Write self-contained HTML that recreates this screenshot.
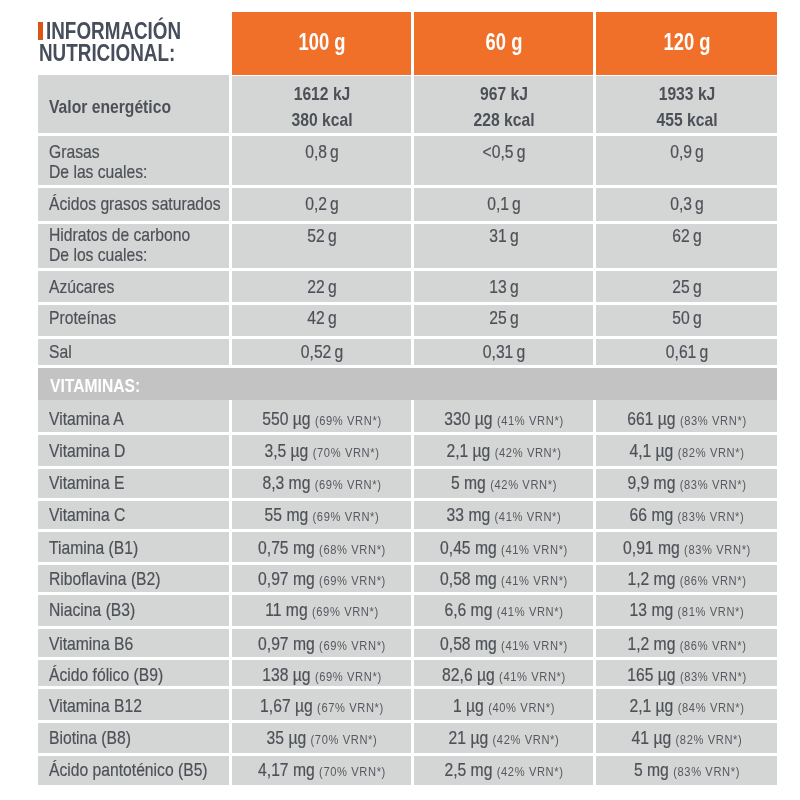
<!DOCTYPE html>
<html><head><meta charset="utf-8"><style>
html,body{margin:0;padding:0;background:#fff;width:800px;height:800px;overflow:hidden;position:relative}
body{font-family:"Liberation Sans",sans-serif;color:#4d5157}
#w{position:absolute;left:0;top:0;width:800px;height:800px;filter:blur(0.5px)}
.r{position:absolute}
.t{position:absolute;white-space:nowrap;line-height:1;}
.n{-webkit-text-stroke-width:0.2px}
.s{font-size:13.5px;letter-spacing:0.75px;-webkit-text-stroke-width:0;color:#55595e}
</style></head><body><div id="w">
<div class="r" style="left:38px;top:22px;width:5px;height:18px;background:#dc5518"></div>
<div class="t" style="left:46.30px;top:19.83px;width:400px;font-size:23px;text-align:left;transform-origin:left 0;transform:scaleX(0.82);font-weight:bold;color:#474e5b;">INFORMACIÓN</div>
<div class="t" style="left:38.80px;top:41.53px;width:400px;font-size:23px;text-align:left;transform-origin:left 0;transform:scaleX(0.82);font-weight:bold;color:#474e5b;">NUTRICIONAL:</div>
<div class="r" style="left:232px;top:12px;width:179px;height:63px;background:#f07029"></div>
<div class="t" style="left:121.50px;top:31.03px;width:400px;font-size:23px;text-align:center;transform-origin:center 0;transform:scaleX(0.8);font-weight:bold;color:#ffffff;">100 g</div>
<div class="r" style="left:414px;top:12px;width:179px;height:63px;background:#f07029"></div>
<div class="t" style="left:303.50px;top:31.03px;width:400px;font-size:23px;text-align:center;transform-origin:center 0;transform:scaleX(0.8);font-weight:bold;color:#ffffff;">60 g</div>
<div class="r" style="left:596px;top:12px;width:181px;height:63px;background:#f07029"></div>
<div class="t" style="left:486.50px;top:31.03px;width:400px;font-size:23px;text-align:center;transform-origin:center 0;transform:scaleX(0.8);font-weight:bold;color:#ffffff;">120 g</div>
<div class="r" style="left:38px;top:75px;width:191px;height:58px;background:#d4d5d5"></div>
<div class="r" style="left:232px;top:76px;width:179px;height:57px;background:#d4d5d5"></div>
<div class="r" style="left:414px;top:76px;width:179px;height:57px;background:#d4d5d5"></div>
<div class="r" style="left:596px;top:76px;width:181px;height:57px;background:#d4d5d5"></div>
<div class="r" style="left:38px;top:136px;width:191px;height:49px;background:#d4d5d5"></div>
<div class="r" style="left:232px;top:136px;width:179px;height:49px;background:#d4d5d5"></div>
<div class="r" style="left:414px;top:136px;width:179px;height:49px;background:#d4d5d5"></div>
<div class="r" style="left:596px;top:136px;width:181px;height:49px;background:#d4d5d5"></div>
<div class="r" style="left:38px;top:188px;width:191px;height:33px;background:#d4d5d5"></div>
<div class="r" style="left:232px;top:188px;width:179px;height:33px;background:#d4d5d5"></div>
<div class="r" style="left:414px;top:188px;width:179px;height:33px;background:#d4d5d5"></div>
<div class="r" style="left:596px;top:188px;width:181px;height:33px;background:#d4d5d5"></div>
<div class="r" style="left:38px;top:224px;width:191px;height:44px;background:#d4d5d5"></div>
<div class="r" style="left:232px;top:224px;width:179px;height:44px;background:#d4d5d5"></div>
<div class="r" style="left:414px;top:224px;width:179px;height:44px;background:#d4d5d5"></div>
<div class="r" style="left:596px;top:224px;width:181px;height:44px;background:#d4d5d5"></div>
<div class="r" style="left:38px;top:271px;width:191px;height:31px;background:#d4d5d5"></div>
<div class="r" style="left:232px;top:271px;width:179px;height:31px;background:#d4d5d5"></div>
<div class="r" style="left:414px;top:271px;width:179px;height:31px;background:#d4d5d5"></div>
<div class="r" style="left:596px;top:271px;width:181px;height:31px;background:#d4d5d5"></div>
<div class="r" style="left:38px;top:305px;width:191px;height:31px;background:#d4d5d5"></div>
<div class="r" style="left:232px;top:305px;width:179px;height:31px;background:#d4d5d5"></div>
<div class="r" style="left:414px;top:305px;width:179px;height:31px;background:#d4d5d5"></div>
<div class="r" style="left:596px;top:305px;width:181px;height:31px;background:#d4d5d5"></div>
<div class="r" style="left:38px;top:339px;width:191px;height:26px;background:#d4d5d5"></div>
<div class="r" style="left:232px;top:339px;width:179px;height:26px;background:#d4d5d5"></div>
<div class="r" style="left:414px;top:339px;width:179px;height:26px;background:#d4d5d5"></div>
<div class="r" style="left:596px;top:339px;width:181px;height:26px;background:#d4d5d5"></div>
<div class="r" style="left:38px;top:368px;width:739px;height:32px;background:#c3c3c3"></div>
<div class="r" style="left:38px;top:400px;width:191px;height:32px;background:#d4d5d5"></div>
<div class="r" style="left:232px;top:400px;width:179px;height:32px;background:#d4d5d5"></div>
<div class="r" style="left:414px;top:400px;width:179px;height:32px;background:#d4d5d5"></div>
<div class="r" style="left:596px;top:400px;width:181px;height:32px;background:#d4d5d5"></div>
<div class="r" style="left:38px;top:435px;width:191px;height:31px;background:#d4d5d5"></div>
<div class="r" style="left:232px;top:435px;width:179px;height:31px;background:#d4d5d5"></div>
<div class="r" style="left:414px;top:435px;width:179px;height:31px;background:#d4d5d5"></div>
<div class="r" style="left:596px;top:435px;width:181px;height:31px;background:#d4d5d5"></div>
<div class="r" style="left:38px;top:469px;width:191px;height:29px;background:#d4d5d5"></div>
<div class="r" style="left:232px;top:469px;width:179px;height:29px;background:#d4d5d5"></div>
<div class="r" style="left:414px;top:469px;width:179px;height:29px;background:#d4d5d5"></div>
<div class="r" style="left:596px;top:469px;width:181px;height:29px;background:#d4d5d5"></div>
<div class="r" style="left:38px;top:501px;width:191px;height:28px;background:#d4d5d5"></div>
<div class="r" style="left:232px;top:501px;width:179px;height:28px;background:#d4d5d5"></div>
<div class="r" style="left:414px;top:501px;width:179px;height:28px;background:#d4d5d5"></div>
<div class="r" style="left:596px;top:501px;width:181px;height:28px;background:#d4d5d5"></div>
<div class="r" style="left:38px;top:532px;width:191px;height:30px;background:#d4d5d5"></div>
<div class="r" style="left:232px;top:532px;width:179px;height:30px;background:#d4d5d5"></div>
<div class="r" style="left:414px;top:532px;width:179px;height:30px;background:#d4d5d5"></div>
<div class="r" style="left:596px;top:532px;width:181px;height:30px;background:#d4d5d5"></div>
<div class="r" style="left:38px;top:565px;width:191px;height:27px;background:#d4d5d5"></div>
<div class="r" style="left:232px;top:565px;width:179px;height:27px;background:#d4d5d5"></div>
<div class="r" style="left:414px;top:565px;width:179px;height:27px;background:#d4d5d5"></div>
<div class="r" style="left:596px;top:565px;width:181px;height:27px;background:#d4d5d5"></div>
<div class="r" style="left:38px;top:595px;width:191px;height:31px;background:#d4d5d5"></div>
<div class="r" style="left:232px;top:595px;width:179px;height:31px;background:#d4d5d5"></div>
<div class="r" style="left:414px;top:595px;width:179px;height:31px;background:#d4d5d5"></div>
<div class="r" style="left:596px;top:595px;width:181px;height:31px;background:#d4d5d5"></div>
<div class="r" style="left:38px;top:629px;width:191px;height:28px;background:#d4d5d5"></div>
<div class="r" style="left:232px;top:629px;width:179px;height:28px;background:#d4d5d5"></div>
<div class="r" style="left:414px;top:629px;width:179px;height:28px;background:#d4d5d5"></div>
<div class="r" style="left:596px;top:629px;width:181px;height:28px;background:#d4d5d5"></div>
<div class="r" style="left:38px;top:660px;width:191px;height:26px;background:#d4d5d5"></div>
<div class="r" style="left:232px;top:660px;width:179px;height:26px;background:#d4d5d5"></div>
<div class="r" style="left:414px;top:660px;width:179px;height:26px;background:#d4d5d5"></div>
<div class="r" style="left:596px;top:660px;width:181px;height:26px;background:#d4d5d5"></div>
<div class="r" style="left:38px;top:689px;width:191px;height:31px;background:#d4d5d5"></div>
<div class="r" style="left:232px;top:689px;width:179px;height:31px;background:#d4d5d5"></div>
<div class="r" style="left:414px;top:689px;width:179px;height:31px;background:#d4d5d5"></div>
<div class="r" style="left:596px;top:689px;width:181px;height:31px;background:#d4d5d5"></div>
<div class="r" style="left:38px;top:723px;width:191px;height:30px;background:#d4d5d5"></div>
<div class="r" style="left:232px;top:723px;width:179px;height:30px;background:#d4d5d5"></div>
<div class="r" style="left:414px;top:723px;width:179px;height:30px;background:#d4d5d5"></div>
<div class="r" style="left:596px;top:723px;width:181px;height:30px;background:#d4d5d5"></div>
<div class="r" style="left:38px;top:756px;width:191px;height:29px;background:#d4d5d5"></div>
<div class="r" style="left:232px;top:756px;width:179px;height:29px;background:#d4d5d5"></div>
<div class="r" style="left:414px;top:756px;width:179px;height:29px;background:#d4d5d5"></div>
<div class="r" style="left:596px;top:756px;width:181px;height:29px;background:#d4d5d5"></div>
<div class="t" style="left:49.00px;top:97.32px;width:400px;font-size:19px;text-align:left;transform-origin:left 0;transform:scaleX(0.825);font-weight:bold;">Valor energético</div>
<div class="t" style="left:121.50px;top:83.67px;width:400px;font-size:19px;text-align:center;transform-origin:center 0;transform:scaleX(0.825);font-weight:bold;">1612 kJ</div>
<div class="t" style="left:121.50px;top:110.22px;width:400px;font-size:19px;text-align:center;transform-origin:center 0;transform:scaleX(0.825);font-weight:bold;">380 kcal</div>
<div class="t" style="left:303.50px;top:83.67px;width:400px;font-size:19px;text-align:center;transform-origin:center 0;transform:scaleX(0.825);font-weight:bold;">967 kJ</div>
<div class="t" style="left:303.50px;top:110.22px;width:400px;font-size:19px;text-align:center;transform-origin:center 0;transform:scaleX(0.825);font-weight:bold;">228 kcal</div>
<div class="t" style="left:486.50px;top:83.67px;width:400px;font-size:19px;text-align:center;transform-origin:center 0;transform:scaleX(0.825);font-weight:bold;">1933 kJ</div>
<div class="t" style="left:486.50px;top:110.22px;width:400px;font-size:19px;text-align:center;transform-origin:center 0;transform:scaleX(0.825);font-weight:bold;">455 kcal</div>
<div class="t n" style="left:49.00px;top:141.92px;width:400px;font-size:19px;text-align:left;transform-origin:left 0;transform:scaleX(0.825);">Grasas</div>
<div class="t n" style="left:49.00px;top:161.92px;width:400px;font-size:19px;text-align:left;transform-origin:left 0;transform:scaleX(0.825);">De las cuales:</div>
<div class="t n" style="left:121.50px;top:142.17px;width:400px;font-size:19px;text-align:center;transform-origin:center 0;transform:scaleX(0.825);word-spacing:-1.5px;">0,8 g</div>
<div class="t n" style="left:303.50px;top:142.17px;width:400px;font-size:19px;text-align:center;transform-origin:center 0;transform:scaleX(0.825);word-spacing:-1.5px;">&lt;0,5 g</div>
<div class="t n" style="left:486.50px;top:142.17px;width:400px;font-size:19px;text-align:center;transform-origin:center 0;transform:scaleX(0.825);word-spacing:-1.5px;">0,9 g</div>
<div class="t n" style="left:49.00px;top:193.67px;width:400px;font-size:19px;text-align:left;transform-origin:left 0;transform:scaleX(0.825);">Ácidos grasos saturados</div>
<div class="t n" style="left:121.50px;top:193.67px;width:400px;font-size:19px;text-align:center;transform-origin:center 0;transform:scaleX(0.825);word-spacing:-1.5px;">0,2 g</div>
<div class="t n" style="left:303.50px;top:193.67px;width:400px;font-size:19px;text-align:center;transform-origin:center 0;transform:scaleX(0.825);word-spacing:-1.5px;">0,1 g</div>
<div class="t n" style="left:486.50px;top:193.67px;width:400px;font-size:19px;text-align:center;transform-origin:center 0;transform:scaleX(0.825);word-spacing:-1.5px;">0,3 g</div>
<div class="t n" style="left:49.00px;top:224.92px;width:400px;font-size:19px;text-align:left;transform-origin:left 0;transform:scaleX(0.825);">Hidratos de carbono</div>
<div class="t n" style="left:49.00px;top:244.92px;width:400px;font-size:19px;text-align:left;transform-origin:left 0;transform:scaleX(0.825);">De los cuales:</div>
<div class="t n" style="left:121.50px;top:225.92px;width:400px;font-size:19px;text-align:center;transform-origin:center 0;transform:scaleX(0.825);word-spacing:-1.5px;">52 g</div>
<div class="t n" style="left:303.50px;top:225.92px;width:400px;font-size:19px;text-align:center;transform-origin:center 0;transform:scaleX(0.825);word-spacing:-1.5px;">31 g</div>
<div class="t n" style="left:486.50px;top:225.92px;width:400px;font-size:19px;text-align:center;transform-origin:center 0;transform:scaleX(0.825);word-spacing:-1.5px;">62 g</div>
<div class="t n" style="left:49.00px;top:276.92px;width:400px;font-size:19px;text-align:left;transform-origin:left 0;transform:scaleX(0.825);">Azúcares</div>
<div class="t n" style="left:121.50px;top:276.92px;width:400px;font-size:19px;text-align:center;transform-origin:center 0;transform:scaleX(0.825);word-spacing:-1.5px;">22 g</div>
<div class="t n" style="left:303.50px;top:276.92px;width:400px;font-size:19px;text-align:center;transform-origin:center 0;transform:scaleX(0.825);word-spacing:-1.5px;">13 g</div>
<div class="t n" style="left:486.50px;top:276.92px;width:400px;font-size:19px;text-align:center;transform-origin:center 0;transform:scaleX(0.825);word-spacing:-1.5px;">25 g</div>
<div class="t n" style="left:49.00px;top:308.42px;width:400px;font-size:19px;text-align:left;transform-origin:left 0;transform:scaleX(0.825);">Proteínas</div>
<div class="t n" style="left:121.50px;top:308.42px;width:400px;font-size:19px;text-align:center;transform-origin:center 0;transform:scaleX(0.825);word-spacing:-1.5px;">42 g</div>
<div class="t n" style="left:303.50px;top:308.42px;width:400px;font-size:19px;text-align:center;transform-origin:center 0;transform:scaleX(0.825);word-spacing:-1.5px;">25 g</div>
<div class="t n" style="left:486.50px;top:308.42px;width:400px;font-size:19px;text-align:center;transform-origin:center 0;transform:scaleX(0.825);word-spacing:-1.5px;">50 g</div>
<div class="t n" style="left:49.00px;top:341.92px;width:400px;font-size:19px;text-align:left;transform-origin:left 0;transform:scaleX(0.825);">Sal</div>
<div class="t n" style="left:121.50px;top:341.92px;width:400px;font-size:19px;text-align:center;transform-origin:center 0;transform:scaleX(0.825);word-spacing:-1.5px;">0,52 g</div>
<div class="t n" style="left:303.50px;top:341.92px;width:400px;font-size:19px;text-align:center;transform-origin:center 0;transform:scaleX(0.825);word-spacing:-1.5px;">0,31 g</div>
<div class="t n" style="left:486.50px;top:341.92px;width:400px;font-size:19px;text-align:center;transform-origin:center 0;transform:scaleX(0.825);word-spacing:-1.5px;">0,61 g</div>
<div class="t" style="left:50.00px;top:376.51px;width:400px;font-size:18px;text-align:left;transform-origin:left 0;transform:scaleX(0.87);font-weight:bold;color:#ffffff;">VITAMINAS:</div>
<div class="t n" style="left:49.00px;top:408.92px;width:400px;font-size:19px;text-align:left;transform-origin:left 0;transform:scaleX(0.825);">Vitamina A</div>
<div class="t n" style="left:121.50px;top:408.92px;width:400px;font-size:19px;text-align:center;transform-origin:center 0;transform:scaleX(0.825);">550 µg <span class="s">(69% VRN*)</span></div>
<div class="t n" style="left:303.50px;top:408.92px;width:400px;font-size:19px;text-align:center;transform-origin:center 0;transform:scaleX(0.825);">330 µg <span class="s">(41% VRN*)</span></div>
<div class="t n" style="left:486.50px;top:408.92px;width:400px;font-size:19px;text-align:center;transform-origin:center 0;transform:scaleX(0.825);">661 µg <span class="s">(83% VRN*)</span></div>
<div class="t n" style="left:49.00px;top:440.92px;width:400px;font-size:19px;text-align:left;transform-origin:left 0;transform:scaleX(0.825);">Vitamina D</div>
<div class="t n" style="left:121.50px;top:440.92px;width:400px;font-size:19px;text-align:center;transform-origin:center 0;transform:scaleX(0.825);">3,5 µg <span class="s">(70% VRN*)</span></div>
<div class="t n" style="left:303.50px;top:440.92px;width:400px;font-size:19px;text-align:center;transform-origin:center 0;transform:scaleX(0.825);">2,1 µg <span class="s">(42% VRN*)</span></div>
<div class="t n" style="left:486.50px;top:440.92px;width:400px;font-size:19px;text-align:center;transform-origin:center 0;transform:scaleX(0.825);">4,1 µg <span class="s">(82% VRN*)</span></div>
<div class="t n" style="left:49.00px;top:472.67px;width:400px;font-size:19px;text-align:left;transform-origin:left 0;transform:scaleX(0.825);">Vitamina E</div>
<div class="t n" style="left:121.50px;top:472.67px;width:400px;font-size:19px;text-align:center;transform-origin:center 0;transform:scaleX(0.825);">8,3 mg <span class="s">(69% VRN*)</span></div>
<div class="t n" style="left:303.50px;top:472.67px;width:400px;font-size:19px;text-align:center;transform-origin:center 0;transform:scaleX(0.825);">5 mg <span class="s">(42% VRN*)</span></div>
<div class="t n" style="left:486.50px;top:472.67px;width:400px;font-size:19px;text-align:center;transform-origin:center 0;transform:scaleX(0.825);">9,9 mg <span class="s">(83% VRN*)</span></div>
<div class="t n" style="left:49.00px;top:505.17px;width:400px;font-size:19px;text-align:left;transform-origin:left 0;transform:scaleX(0.825);">Vitamina C</div>
<div class="t n" style="left:121.50px;top:505.17px;width:400px;font-size:19px;text-align:center;transform-origin:center 0;transform:scaleX(0.825);">55 mg <span class="s">(69% VRN*)</span></div>
<div class="t n" style="left:303.50px;top:505.17px;width:400px;font-size:19px;text-align:center;transform-origin:center 0;transform:scaleX(0.825);">33 mg <span class="s">(41% VRN*)</span></div>
<div class="t n" style="left:486.50px;top:505.17px;width:400px;font-size:19px;text-align:center;transform-origin:center 0;transform:scaleX(0.825);">66 mg <span class="s">(83% VRN*)</span></div>
<div class="t n" style="left:49.00px;top:537.67px;width:400px;font-size:19px;text-align:left;transform-origin:left 0;transform:scaleX(0.825);">Tiamina (B1)</div>
<div class="t n" style="left:121.50px;top:537.67px;width:400px;font-size:19px;text-align:center;transform-origin:center 0;transform:scaleX(0.825);">0,75 mg <span class="s">(68% VRN*)</span></div>
<div class="t n" style="left:303.50px;top:537.67px;width:400px;font-size:19px;text-align:center;transform-origin:center 0;transform:scaleX(0.825);">0,45 mg <span class="s">(41% VRN*)</span></div>
<div class="t n" style="left:486.50px;top:537.67px;width:400px;font-size:19px;text-align:center;transform-origin:center 0;transform:scaleX(0.825);">0,91 mg <span class="s">(83% VRN*)</span></div>
<div class="t n" style="left:49.00px;top:568.92px;width:400px;font-size:19px;text-align:left;transform-origin:left 0;transform:scaleX(0.825);">Riboflavina (B2)</div>
<div class="t n" style="left:121.50px;top:568.92px;width:400px;font-size:19px;text-align:center;transform-origin:center 0;transform:scaleX(0.825);">0,97 mg <span class="s">(69% VRN*)</span></div>
<div class="t n" style="left:303.50px;top:568.92px;width:400px;font-size:19px;text-align:center;transform-origin:center 0;transform:scaleX(0.825);">0,58 mg <span class="s">(41% VRN*)</span></div>
<div class="t n" style="left:486.50px;top:568.92px;width:400px;font-size:19px;text-align:center;transform-origin:center 0;transform:scaleX(0.825);">1,2 mg <span class="s">(86% VRN*)</span></div>
<div class="t n" style="left:49.00px;top:600.17px;width:400px;font-size:19px;text-align:left;transform-origin:left 0;transform:scaleX(0.825);">Niacina (B3)</div>
<div class="t n" style="left:121.50px;top:600.17px;width:400px;font-size:19px;text-align:center;transform-origin:center 0;transform:scaleX(0.825);">11 mg <span class="s">(69% VRN*)</span></div>
<div class="t n" style="left:303.50px;top:600.17px;width:400px;font-size:19px;text-align:center;transform-origin:center 0;transform:scaleX(0.825);">6,6 mg <span class="s">(41% VRN*)</span></div>
<div class="t n" style="left:486.50px;top:600.17px;width:400px;font-size:19px;text-align:center;transform-origin:center 0;transform:scaleX(0.825);">13 mg <span class="s">(81% VRN*)</span></div>
<div class="t n" style="left:49.00px;top:633.92px;width:400px;font-size:19px;text-align:left;transform-origin:left 0;transform:scaleX(0.825);">Vitamina B6</div>
<div class="t n" style="left:121.50px;top:633.92px;width:400px;font-size:19px;text-align:center;transform-origin:center 0;transform:scaleX(0.825);">0,97 mg <span class="s">(69% VRN*)</span></div>
<div class="t n" style="left:303.50px;top:633.92px;width:400px;font-size:19px;text-align:center;transform-origin:center 0;transform:scaleX(0.825);">0,58 mg <span class="s">(41% VRN*)</span></div>
<div class="t n" style="left:486.50px;top:633.92px;width:400px;font-size:19px;text-align:center;transform-origin:center 0;transform:scaleX(0.825);">1,2 mg <span class="s">(86% VRN*)</span></div>
<div class="t n" style="left:49.00px;top:665.17px;width:400px;font-size:19px;text-align:left;transform-origin:left 0;transform:scaleX(0.825);">Ácido fólico (B9)</div>
<div class="t n" style="left:121.50px;top:665.17px;width:400px;font-size:19px;text-align:center;transform-origin:center 0;transform:scaleX(0.825);">138 µg <span class="s">(69% VRN*)</span></div>
<div class="t n" style="left:303.50px;top:665.17px;width:400px;font-size:19px;text-align:center;transform-origin:center 0;transform:scaleX(0.825);">82,6 µg <span class="s">(41% VRN*)</span></div>
<div class="t n" style="left:486.50px;top:665.17px;width:400px;font-size:19px;text-align:center;transform-origin:center 0;transform:scaleX(0.825);">165 µg <span class="s">(83% VRN*)</span></div>
<div class="t n" style="left:49.00px;top:696.42px;width:400px;font-size:19px;text-align:left;transform-origin:left 0;transform:scaleX(0.825);">Vitamina B12</div>
<div class="t n" style="left:121.50px;top:696.42px;width:400px;font-size:19px;text-align:center;transform-origin:center 0;transform:scaleX(0.825);">1,67 µg <span class="s">(67% VRN*)</span></div>
<div class="t n" style="left:303.50px;top:696.42px;width:400px;font-size:19px;text-align:center;transform-origin:center 0;transform:scaleX(0.825);">1 µg <span class="s">(40% VRN*)</span></div>
<div class="t n" style="left:486.50px;top:696.42px;width:400px;font-size:19px;text-align:center;transform-origin:center 0;transform:scaleX(0.825);">2,1 µg <span class="s">(84% VRN*)</span></div>
<div class="t n" style="left:49.00px;top:728.42px;width:400px;font-size:19px;text-align:left;transform-origin:left 0;transform:scaleX(0.825);">Biotina (B8)</div>
<div class="t n" style="left:121.50px;top:728.42px;width:400px;font-size:19px;text-align:center;transform-origin:center 0;transform:scaleX(0.825);">35 µg <span class="s">(70% VRN*)</span></div>
<div class="t n" style="left:303.50px;top:728.42px;width:400px;font-size:19px;text-align:center;transform-origin:center 0;transform:scaleX(0.825);">21 µg <span class="s">(42% VRN*)</span></div>
<div class="t n" style="left:486.50px;top:728.42px;width:400px;font-size:19px;text-align:center;transform-origin:center 0;transform:scaleX(0.825);">41 µg <span class="s">(82% VRN*)</span></div>
<div class="t n" style="left:49.00px;top:760.17px;width:400px;font-size:19px;text-align:left;transform-origin:left 0;transform:scaleX(0.825);">Ácido pantoténico (B5)</div>
<div class="t n" style="left:121.50px;top:760.17px;width:400px;font-size:19px;text-align:center;transform-origin:center 0;transform:scaleX(0.825);">4,17 mg <span class="s">(70% VRN*)</span></div>
<div class="t n" style="left:303.50px;top:760.17px;width:400px;font-size:19px;text-align:center;transform-origin:center 0;transform:scaleX(0.825);">2,5 mg <span class="s">(42% VRN*)</span></div>
<div class="t n" style="left:486.50px;top:760.17px;width:400px;font-size:19px;text-align:center;transform-origin:center 0;transform:scaleX(0.825);">5 mg <span class="s">(83% VRN*)</span></div>
</div></body></html>
